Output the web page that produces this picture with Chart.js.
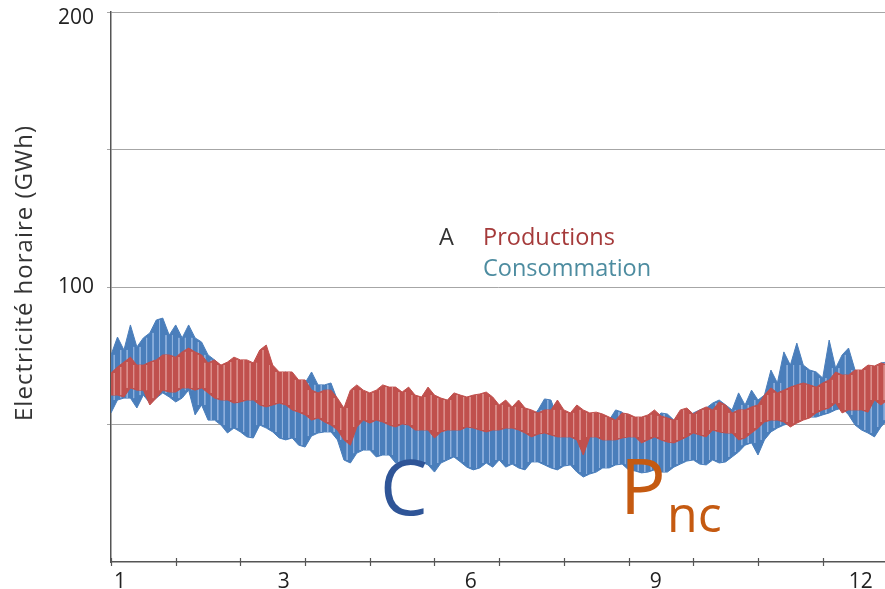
<!DOCTYPE html>
<html>
<head>
<meta charset="utf-8">
<script src="https://cdn.jsdelivr.net/npm/chart.js@4.4.0/dist/chart.umd.min.js"></script>
<style>
html,body{margin:0;padding:0;background:#fff;}
canvas{display:block;}
</style>
</head>
<body>
<canvas id="c" width="885" height="589"></canvas>
<script>
// ---- DATA (GWh), sampled every 0.1 month (upper / lower envelope of hourly values) ----
const consHigh = [75.3,81.8,77.1,86.2,78.2,81.5,83.3,88.0,88.7,82.5,86.2,81.5,86.2,81.5,80.0,75.3,73.5,71.3,70.5,69.8,
68.7,67.6,67.3,68.4,69.1,69.8,67.6,69.1,66.9,65.1,65.1,69.1,64.4,64.4,65.1,58.9,54.5,53.5,57.1,57.1,
56.4,55.3,57.1,57.1,56.0,55.3,55.3,54.5,54.5,55.3,53.5,54.5,54.5,55.3,54.5,54.5,54.2,54.2,54.2,56.0,
54.5,54.5,53.5,53.5,52.4,52.4,55.3,59.3,58.9,52.4,52.4,51.6,51.6,51.6,51.6,50.9,50.9,51.6,55.3,54.5,
50.9,50.9,50.9,51.6,51.6,54.2,53.8,51.6,52.4,52.4,54.2,55.3,56.0,57.8,58.9,57.1,55.3,61.5,57.1,62.5,
58.9,60.7,69.8,65.1,76.4,71.6,79.6,71.6,69.8,69.1,66.9,80.7,70.5,75.3,77.8,69.8,65.1,69.1,69.8,72.4,72.7];
const consLow = [54.2,58.9,59.6,59.6,56.0,60.7,57.8,59.6,61.5,60.0,58.2,59.6,62.5,53.5,57.1,51.6,51.6,49.8,46.9,48.7,
47.3,45.5,45.1,49.8,48.7,47.3,45.1,44.4,45.1,42.5,41.8,45.8,46.9,47.3,47.3,44.4,37.1,36.0,39.6,40.7,
40.7,38.2,38.9,38.9,36.0,36.4,36.4,36.0,36.4,35.3,32.7,36.0,37.1,38.2,36.4,34.5,33.5,34.2,36.0,34.5,
37.1,34.5,35.6,34.2,33.5,36.4,36.4,35.3,34.2,33.5,34.9,35.3,32.7,30.9,32.0,32.7,34.2,34.2,35.3,35.6,
33.5,33.1,32.4,32.7,33.5,32.7,32.7,34.5,35.6,36.7,37.1,35.6,35.3,37.1,36.0,36.4,38.2,40.0,42.5,43.3,
38.9,44.4,47.3,48.7,49.8,50.5,51.6,52.4,52.7,52.7,53.5,54.2,55.3,56.0,53.5,49.8,48.0,46.9,45.5,49.1,51.6];
const prodHigh = [68.7,70.9,72.7,74.5,71.6,71.6,72.7,73.5,75.3,75.3,74.5,76.4,77.8,76.4,75.3,72.4,73.5,71.6,72.7,74.5,
73.5,73.5,72.4,77.1,78.9,71.6,69.1,69.1,69.1,66.2,66.2,62.5,61.5,62.5,62.5,59.6,56.0,62.5,64.4,62.5,
61.5,62.5,64.4,63.6,63.6,61.8,63.6,60.7,60.0,63.6,60.7,59.6,58.9,61.5,60.7,60.0,60.7,61.1,61.8,60.0,
57.1,58.9,56.4,58.9,56.0,55.3,54.2,55.3,55.3,58.9,55.3,54.2,57.1,55.3,54.2,54.5,53.8,52.7,51.6,54.2,
53.8,52.7,52.7,53.5,55.3,53.1,52.4,51.6,55.3,56.0,53.8,55.3,56.4,55.3,58.2,57.1,54.2,55.3,55.3,56.4,
57.1,60.7,63.3,61.5,62.5,63.6,64.4,65.1,64.4,63.6,65.1,66.2,69.1,68.0,68.0,69.8,69.8,71.6,71.3,72.4,71.6];
const prodLow = [60.7,60.7,60.0,63.3,62.5,62.5,57.1,59.6,62.5,61.8,61.8,63.3,63.3,62.5,63.3,61.5,59.6,58.9,58.9,57.8,
58.2,58.9,58.9,57.1,56.4,57.1,57.8,57.1,55.3,54.5,53.5,51.6,52.4,50.9,49.8,48.0,44.4,42.5,49.1,51.6,
50.5,51.6,50.9,49.8,49.1,50.2,49.8,48.0,48.0,48.0,45.1,47.3,48.0,48.0,48.0,49.1,48.7,48.0,47.3,48.0,
48.0,48.7,48.7,48.0,46.9,45.5,46.5,46.9,46.2,45.5,45.5,45.5,44.4,38.9,45.5,45.5,44.4,44.4,44.4,45.1,
45.5,45.5,43.3,44.4,45.5,44.4,43.6,43.3,44.4,45.5,46.9,46.2,45.5,48.0,47.3,46.9,46.9,44.4,45.1,46.9,
48.7,50.9,51.6,51.6,50.9,49.1,50.5,51.6,52.4,54.2,55.3,56.0,57.8,54.2,55.3,55.3,55.3,54.5,58.9,57.1,58.9];
// month boundaries (tick marks) and month tick labels with their positions on the month axis
const monthBounds = [0,1,2,3,4,5,6,7,8,9,10,11,12];
const xLabels = ['1','3','6','9','12'];
const xLabelPos = [0.14,2.67,5.56,8.42,11.59];
const yLabeled = [100,200];
const sampleStep = 0.1;

function band(arr){ return arr.map((v,i)=>({x:i*sampleStep, y:v})); }
// short vertical strokes from upper to lower envelope (hourly swing texture)
function strokes(hi, lo){
  const out=[];
  for(let i=0;i<hi.length;i++){
    const x = i*sampleStep + sampleStep/2;
    const j = Math.min(i+1, hi.length-1);
    out.push({x, y:Math.min(hi[i],hi[j])});
    out.push({x, y:Math.max(lo[i],lo[j])});
    out.push({x, y:null});
  }
  return out;
}

const FONT = "'Open Sans', 'Noto Sans', sans-serif";

const extras = {
  id:'extras',
  afterDraw(chart){
    const ctx = chart.ctx, xs = chart.scales.x, ys = chart.scales.y;
    ctx.save();
    // crossing tick marks at month boundaries
    ctx.strokeStyle = '#555'; ctx.lineWidth = 1.2;
    const yb = ys.getPixelForValue(0);
    monthBounds.forEach(m=>{
      const px = Math.round(xs.getPixelForValue(m))+0.5;
      ctx.beginPath(); ctx.moveTo(px, yb-4); ctx.lineTo(px, yb+4); ctx.stroke();
    });
    // x tick labels
    ctx.fillStyle = '#222';
    ctx.font = "21px " + FONT;
    ctx.textAlign = 'center'; ctx.textBaseline = 'alphabetic';
    xLabelPos.forEach((p,i)=>{ ctx.fillText(xLabels[i], xs.getPixelForValue(p), 588); });
    // y tick labels
    ctx.textAlign = 'right'; ctx.textBaseline = 'middle';
    yLabeled.forEach(v=>{ ctx.fillText(String(v), 94, Math.max(ys.getPixelForValue(v), 18)); });
    // y axis title
    ctx.fillStyle = '#333';
    ctx.font = "24px " + FONT;
    try { ctx.letterSpacing = '1px'; } catch(e) {}
    ctx.textAlign = 'center'; ctx.textBaseline = 'middle';
    ctx.translate(25, 273); ctx.rotate(-Math.PI/2);
    ctx.fillText('Electricité horaire (GWh)', 0, 0);
    ctx.restore();
    ctx.save();
    ctx.textAlign = 'left'; ctx.textBaseline = 'alphabetic';
    ctx.font = "23.5px " + FONT;
    ctx.fillStyle = '#333'; ctx.fillText('A', 439, 245);
    ctx.fillStyle = '#a53a3a'; ctx.fillText('Productions', 483, 245);
    ctx.fillStyle = '#4d8ca0'; ctx.fillText('Consommation', 483, 276);
    ctx.font = "76px " + FONT;
    ctx.fillStyle = '#2f5597'; ctx.fillText('C', 380, 515);
    ctx.fillStyle = '#c55a11'; ctx.fillText('P', 620, 514);
    ctx.font = "50px " + FONT;
    ctx.fillText('nc', 667, 532);
    ctx.restore();
  }
};

new Chart(document.getElementById('c'), {
  type:'line',
  data:{
    datasets:[
      {data:strokes(prodHigh,prodLow), borderColor:'#dc8f8c', borderWidth:1, pointRadius:0, fill:false, spanGaps:false, order:0},
      {data:band(prodHigh), borderColor:'#c0504d', borderWidth:1, backgroundColor:'#c0504d', pointRadius:0, fill:{target:2}, order:1},
      {data:band(prodLow), borderColor:'#c0504d', borderWidth:1, pointRadius:0, fill:false, order:1},
      {data:strokes(consHigh,consLow), borderColor:'#8fb1de', borderWidth:1, pointRadius:0, fill:false, spanGaps:false, order:2},
      {data:band(consHigh), borderColor:'#4a7ebb', borderWidth:1, backgroundColor:'#4a7ebb', pointRadius:0, fill:{target:5}, order:3},
      {data:band(consLow), borderColor:'#4a7ebb', borderWidth:1, pointRadius:0, fill:false, order:3}
    ]
  },
  options:{
    responsive:false, animation:false, devicePixelRatio:1,
    layout:{padding:{top:12,right:0,left:0,bottom:0}},
    plugins:{legend:{display:false}, tooltip:{enabled:false}},
    elements:{line:{tension:0}},
    scales:{
      x:{type:'linear', min:0, max:11.963,
        afterFit(s){ s.height = 27; s.paddingLeft = 0; s.paddingRight = 0; },
        grid:{display:false},
        border:{display:true, color:'#555', width:1.5},
        ticks:{display:false}
      },
      y:{min:0, max:200,
        afterFit(s){ s.width = 111; s.paddingTop = 0; s.paddingBottom = 0; },
        ticks:{stepSize:50, display:false},
        grid:{color:(c)=> c.tick && c.tick.value===0 ? 'rgba(0,0,0,0)' : '#a6a6a6', lineWidth:1, tickLength:4, drawTicks:true},
        border:{display:true, color:'#555', width:1.5}
      }
    }
  },
  plugins:[extras]
});
</script>
</body>
</html>
